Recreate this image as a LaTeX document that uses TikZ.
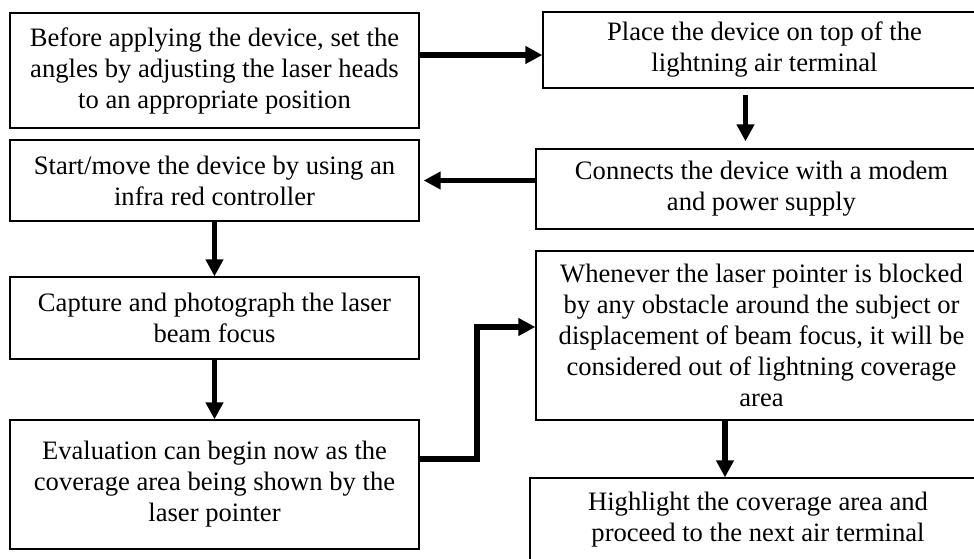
\documentclass[tikz,border=0pt]{standalone}
\usepackage{fontspec}
\setmainfont{Liberation Serif}
\usetikzlibrary{arrows.meta}
\usetikzlibrary{positioning}

\begin{document}
\begin{tikzpicture}[x=1pt, y=-1pt,
  stepbox/.style={draw, line width=1.3pt, align=center, inner sep=0pt,
                  font=\fontsize{26.6}{31}\selectfont},
  flow/.style={line width=5.5pt, line join=miter, -{Triangle[length=17pt,width=17pt]}}]

 \useasboundingbox (0,0) rectangle (974,559);
 \clip (0,0) rectangle (974,559);
 \fill[white] (0,0) rectangle (974,559);

 %left column
 \node[stepbox, minimum width=409pt, minimum height=115pt] (before) at (214.5, 70.5)
   {Before applying the device, set the\\angles by adjusting the laser heads\\to an appropriate position};
 \node[stepbox, minimum width=409pt, minimum height=81pt] (start) at (214.5, 180.5)
   {Start/move the device by using an\\infra red controller};
 \node[stepbox, minimum width=409pt, minimum height=82pt] (capture) at (214.5, 318)
   {Capture and photograph the laser\\beam focus};
 \node[stepbox, minimum width=409pt, minimum height=129pt] (evaluate) at (214.5, 484.5)
   {Evaluation can begin now as the\\coverage area being shown by the\\laser pointer};

 %right column
 \node[stepbox, minimum width=443pt, minimum height=76pt] (place) at (764.5, 50)
   {Place the device on top of the\\lightning air terminal};
 \node[stepbox, minimum width=451pt, minimum height=80pt] (connect) at (761.5, 189)
   {Connects the device with a modem\\and power supply};
 \node[stepbox, minimum width=451pt, minimum height=169pt] (blocked) at (761.5, 335.5)
   {Whenever the laser pointer is blocked\\by any obstacle around the subject or\\displacement of beam focus, it will be\\considered out of lightning coverage\\area};
 \node[stepbox, minimum width=456pt, minimum height=84pt] (highlight) at (758, 520)
   {Highlight the coverage area and\\proceed to the next air terminal};

 %arrows
 \coordinate (in2) at ([yshift=-5pt]place.west);
 \draw[flow] (before.east |- in2) -- (in2);

 \draw[flow, shorten <=6pt, shorten >=7pt] ([xshift=-19pt]place.south) -- ([xshift=-19pt]place.south |- connect.north);

 \draw[flow, shorten >=4pt] (connect.west |- start.east) -- (start.east);

 \draw[flow] (start.south) -- (capture.north);
 \draw[flow] (capture.south) -- (evaluate.north);

 %elbow
 \coordinate (out6) at ([yshift=25.5pt]evaluate.east);
 \coordinate (in7) at ([yshift=8.5pt]blocked.west);
 \coordinate (bend) at (477,0);
 \draw[flow] (out6) -| (bend |- in7) -- (in7);

 \draw[flow] ([xshift=-36.5pt]blocked.south) -- ([xshift=-36.5pt]blocked.south |- highlight.north);

\end{tikzpicture}
\end{document}
